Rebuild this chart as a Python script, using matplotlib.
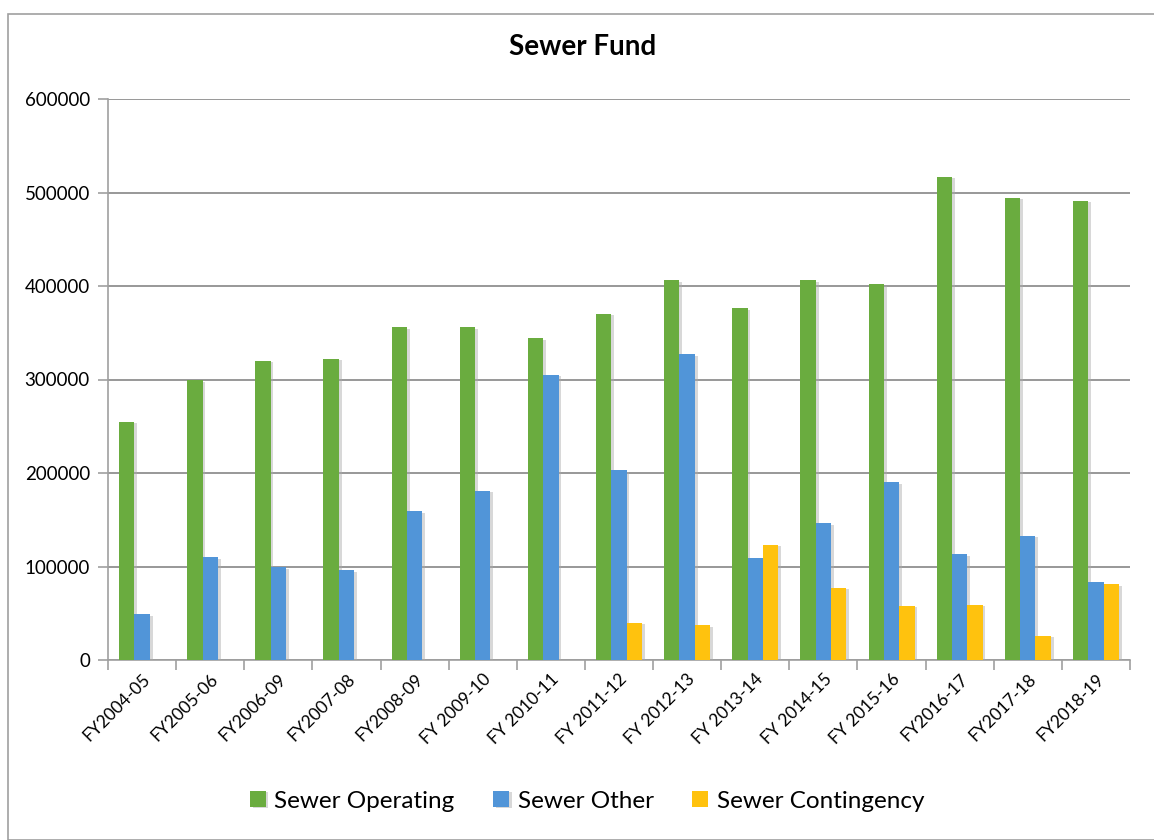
import matplotlib
matplotlib.use("Agg")
import matplotlib.pyplot as plt
import matplotlib.patheffects as pe
from matplotlib.patches import Rectangle
import numpy as np

categories = ["FY2004-05", "FY2005-06", "FY2006-09", "FY2007-08", "FY2008-09",
              "FY 2009-10", "FY 2010-11", "FY 2011-12", "FY 2012-13", "FY 2013-14",
              "FY 2014-15", "FY 2015-16", "FY2016-17", "FY2017-18", "FY2018-19"]
sewer_operating = [255000, 299000, 320000, 322000, 356000, 356000, 344000, 370000,
                   406000, 376000, 406000, 402000, 517000, 494000, 491000]
sewer_other = [49000, 110000, 99000, 96000, 159000, 181000, 305000, 203000,
               327000, 109000, 146000, 190000, 113000, 133000, 83000]
sewer_contingency = [0, 0, 0, 0, 0, 0, 0, 40000, 37000, 123000, 77000, 58000,
                     59000, 26000, 81000]
series_names = ["Sewer Operating", "Sewer Other", "Sewer Contingency"]
colors = ["#6aac3f", "#5195d8", "#ffc20e"]
y_ticks = [0, 100000, 200000, 300000, 400000, 500000, 600000]

plt.rcParams['font.family'] = ['Lato', 'DejaVu Sans']

fig = plt.figure(figsize=(11.54, 8.4), dpi=100)
# outer chart frame
fig.patches.append(Rectangle((8/1154, 0), 1.0, 1 - 14/840, transform=fig.transFigure,
                             fill=False, edgecolor="#a0a0a0", linewidth=1.2))

ax = fig.add_axes([108/1154, 1 - 660/840, (1130 - 108)/1154, (660 - 99)/840])

x = np.arange(len(categories))
w = 0.225
shadow = [pe.SimplePatchShadow(offset=(2, -1), shadow_rgbFace="#aaaaaa", alpha=0.45), pe.Normal()]
for i, (vals, col, name) in enumerate(zip([sewer_operating, sewer_other, sewer_contingency], colors, series_names)):
    bars = ax.bar(x + (i - 1) * w, vals, width=w, color=col, label=name, zorder=3)
    for b in bars:
        if b.get_height() > 0:
            b.set_path_effects(shadow)

ax.set_xlim(-0.5, len(categories) - 0.5)
ax.set_ylim(0, 600000)
ax.set_yticks(y_ticks)
ax.set_yticklabels([str(v) for v in y_ticks], fontsize=13.5)
ax.yaxis.grid(True, color="#868686", linewidth=1.2, zorder=0)
ax.set_axisbelow(True)

ax.set_xticks(x)
ax.set_xticklabels(categories, rotation=45, ha="right", rotation_mode="anchor", fontsize=12.5)
ax.tick_params(axis="x", length=0, pad=8)
ax.set_xticks(np.arange(-0.5, len(categories)), minor=True)
ax.tick_params(axis="x", which="minor", length=7, color="#a0a0a0", width=1.2)
ax.tick_params(axis="y", length=7, color="#a0a0a0", width=1.2, pad=6)

for s in ["top", "right"]:
    ax.spines[s].set_visible(False)
for s in ["left", "bottom"]:
    ax.spines[s].set_color("#a0a0a0")
    ax.spines[s].set_linewidth(1.2)

fig.text(583/1154, 1 - 47/840, "Sewer Fund", ha="center", va="center", fontsize=20, fontweight="bold")

fig.legend(loc="center", bbox_to_anchor=(587/1154, 1 - 801/840), ncol=3, frameon=False,
           fontsize=17.5, handlelength=0.65, handleheight=0.65, columnspacing=1.6, handletextpad=0.35)

fig.savefig("out.png", dpi=100)
